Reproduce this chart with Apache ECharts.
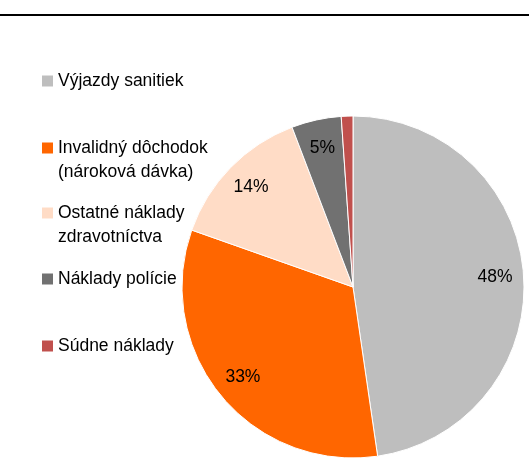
<!DOCTYPE html>
<html>
<head>
<meta charset="utf-8">
<script src="https://cdn.jsdelivr.net/npm/echarts@6/dist/echarts.min.js"></script>
<style>
html,body{margin:0;padding:0;background:#fff;}
#chart{width:529px;height:467px;}
</style>
</head>
<body>
<div id="chart"></div>
<script>
const categories = [
  'Výjazdy sanitiek',
  'Invalidný dôchodok\n(nároková dávka)',
  'Ostatné náklady\nzdravotníctva',
  'Náklady polície',
  'Súdne náklady'
];
const shares = [47.7, 32.7, 13.8, 4.7, 1.1];
const colors = ['#BEBEBE', '#FF6600', '#FFDCC6', '#717171', '#C0504D'];

const FONT = "'Liberation Sans', Arial, sans-serif";
const data = categories.map((c, i) => ({ name: c, value: shares[i], itemStyle: { color: colors[i] } }));
const legendTops = [69, 112, 177, 267, 334];

const legends = categories.map((c, i) => {
  const twoLine = c.indexOf('\n') >= 0;
  return {
    data: [c],
    orient: 'vertical',
    left: 42,
    top: legendTops[i],
    icon: 'rect',
    itemWidth: 11,
    itemHeight: 11,
    itemGap: 0,
    padding: 0,
    selectedMode: false,
    itemStyle: { borderWidth: 0 },
    formatter: name => twoLine ? '\u00a0\n' + name : name,
    textStyle: {
      fontFamily: FONT,
      fontSize: 17.5,
      lineHeight: 24,
      color: '#000'
    }
  };
});

const chart = echarts.init(document.getElementById('chart'), null, { renderer: 'canvas' });
chart.setOption({
  animation: false,
  backgroundColor: '#fff',
  legend: legends,
  graphic: [{
    type: 'rect',
    shape: { x: 0, y: 14, width: 529, height: 2 },
    style: { fill: '#000' }
  }],
  series: [
    {
      type: 'pie',
      center: [353, 287],
      radius: [0, 171],
      startAngle: 90,
      clockwise: true,
      silent: true,
      label: { show: false },
      labelLine: { show: false },
      itemStyle: { borderColor: '#fff', borderWidth: 1 },
      data: data
    },
    {
      type: 'pie',
      center: [353, 287],
      radius: [108, 171],
      startAngle: 90,
      clockwise: true,
      silent: true,
      itemStyle: { color: 'transparent' },
      label: {
        show: true,
        position: 'inside',
        fontFamily: FONT,
        fontSize: 17.5,
        color: '#000',
        formatter: p => p.value < 2 ? '' : Math.round(p.percent) + '%'
      },
      labelLine: { show: false },
      data: categories.map((c, i) => ({ name: c, value: shares[i], itemStyle: { color: 'transparent' } }))
    }
  ]
});
</script>
</body>
</html>
